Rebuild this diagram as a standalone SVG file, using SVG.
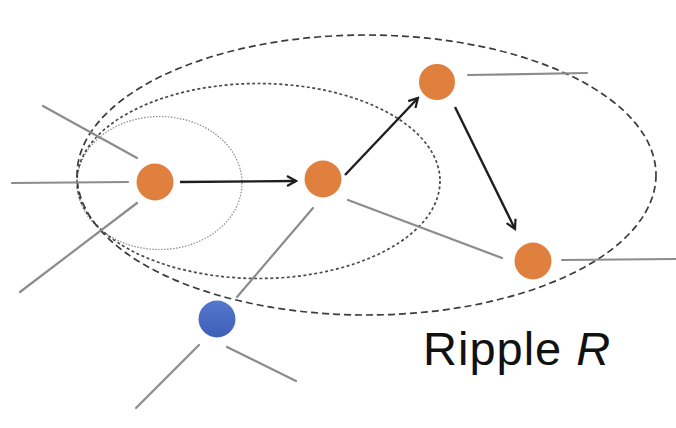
<svg xmlns="http://www.w3.org/2000/svg" width="676" height="428" viewBox="0 0 676 428">
  <style>
    .edge { stroke: #8c8c8c; stroke-width: 2.2; fill: none; stroke-linecap: round; }
    .arrow { stroke: #1e1e1e; stroke-width: 2.4; fill: none; marker-end: url(#open); }
    .ripple { fill: none; }
    .orange { fill: #e0803e; }
    .blue { fill: url(#blueGrad); }
    .label { font-family: "Liberation Sans", Arial, sans-serif; font-size: 47px; letter-spacing: 1px; fill: #111; }
  </style>
  <defs>
    <marker id="open" viewBox="0 0 12 12" refX="10" refY="6" markerWidth="12" markerHeight="12" markerUnits="userSpaceOnUse" orient="auto">
      <path d="M1,1 L10,6 L1,11" fill="none" stroke="#1e1e1e" stroke-width="2.2" stroke-linejoin="miter"/>
    </marker>
    <linearGradient id="blueGrad" x1="0" y1="0" x2="0" y2="1">
      <stop offset="0" stop-color="#5577cc"/>
      <stop offset="1" stop-color="#3f5fb8"/>
    </linearGradient>
  </defs>

  <rect width="676" height="428" fill="#ffffff"/>

  <!-- ripple regions -->
  <g id="ripples">
    <ellipse class="ripple" cx="159.5" cy="183" rx="82.5" ry="66.5" stroke="#8a8a8a" stroke-width="1.2" stroke-dasharray="1.5 1.5"/>
    <ellipse class="ripple" cx="258.5" cy="181" rx="181.5" ry="97.5" stroke="#4a4a4a" stroke-width="1.7" stroke-dasharray="3 2.5"/>
    <ellipse class="ripple" cx="366.5" cy="175" rx="289.5" ry="140" stroke="#3c3c3c" stroke-width="1.7" stroke-dasharray="7 4"/>
  </g>

  <!-- connectors -->
  <g id="connectors">
    <line class="edge" x1="43" y1="106" x2="137" y2="158"/>
    <line class="edge" x1="12" y1="183" x2="128" y2="182"/>
    <line class="edge" x1="137" y1="203" x2="20" y2="292"/>
    <line class="edge" x1="313" y1="208" x2="237" y2="297"/>
    <line class="edge" x1="348" y1="200" x2="502" y2="258"/>
    <line class="edge" x1="468" y1="75" x2="587" y2="73"/>
    <line class="edge" x1="562" y1="260" x2="676" y2="259"/>
    <line class="edge" x1="199" y1="345" x2="136" y2="408"/>
    <line class="edge" x1="227" y1="347" x2="296" y2="381"/>
    <line class="arrow" x1="180" y1="182" x2="296" y2="181"/>
    <line class="arrow" x1="345" y1="175" x2="418" y2="98"/>
    <line class="arrow" x1="455" y1="107" x2="515" y2="229"/>
  </g>

  <!-- nodes -->
  <g id="node-a"><circle class="orange" cx="155" cy="182" r="18.5"/></g>
  <g id="node-b"><circle class="orange" cx="323" cy="179" r="18.5"/></g>
  <g id="node-c"><circle class="orange" cx="437" cy="82" r="18"/></g>
  <g id="node-d"><circle class="orange" cx="533" cy="261" r="18.5"/></g>
  <g id="node-e"><circle class="blue" cx="217" cy="319" r="18.5"/></g>

  <text class="label" x="423" y="365">Ripple <tspan font-style="italic">R</tspan></text>
</svg>
